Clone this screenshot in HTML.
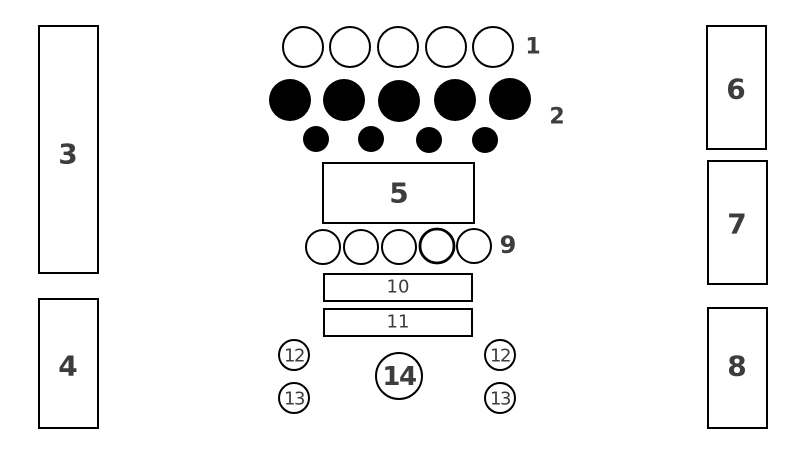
<!DOCTYPE html>
<html><head><style>body{margin:0;background:#fff}svg{display:block}text{font-family:"DejaVu Sans","Liberation Sans",sans-serif;fill:#3d3d3d;text-anchor:middle;dominant-baseline:central}.b{font-weight:bold}.n{font-weight:normal;font-size:18px}</style></head>
<body>
<svg width="800" height="450" viewBox="0 0 800 450">
<g fill="none" stroke="#000" stroke-width="2">
<rect x="39" y="26" width="59" height="247"/>
<rect x="39" y="299" width="59" height="129"/>
<rect x="707" y="26" width="59" height="123"/>
<rect x="708" y="161" width="59" height="123"/>
<rect x="708" y="308" width="59" height="120"/>
<circle cx="303" cy="47" r="20"/><circle cx="350" cy="47" r="20"/><circle cx="398" cy="47" r="20"/><circle cx="446" cy="47" r="20"/><circle cx="493" cy="47" r="20"/>
<rect x="323" y="163" width="151" height="60"/>
<circle cx="323" cy="247" r="17"/><circle cx="361" cy="247" r="17"/><circle cx="399" cy="247" r="17"/><circle cx="437" cy="246" r="17" stroke-width="2.8"/><circle cx="474" cy="246" r="17"/>
<rect x="324" y="274" width="148" height="27"/>
<rect x="324" y="309" width="148" height="27"/>
<circle cx="294" cy="355" r="15"/><circle cx="294" cy="398" r="15"/>
<circle cx="500" cy="355" r="15"/><circle cx="500" cy="398" r="15"/>
<circle cx="399" cy="376" r="23"/>
</g>
<g fill="#000">
<circle cx="290" cy="100" r="21"/><circle cx="344" cy="100" r="21"/><circle cx="399" cy="101" r="21"/><circle cx="455" cy="100" r="21"/><circle cx="510" cy="99" r="21"/>
<circle cx="316" cy="139" r="13"/><circle cx="371" cy="139" r="13"/><circle cx="429" cy="140" r="13"/><circle cx="485" cy="140" r="13"/>
</g>
<text class="b" x="68" y="154" font-size="28">3</text>
<text class="b" x="68" y="366" font-size="28">4</text>
<text class="b" x="736" y="89" font-size="28">6</text>
<text class="b" x="737" y="224" font-size="28">7</text>
<text class="b" x="737" y="366" font-size="28">8</text>
<text class="b" x="399" y="193" font-size="28">5</text>
<text class="b" x="533" y="47" font-size="22">1</text>
<text class="b" x="557" y="117" font-size="22">2</text>
<text class="b" x="508" y="245" font-size="24">9</text>
<text class="n" x="398" y="287">10</text>
<text class="n" x="398" y="322">11</text>
<text class="n" x="294" y="356" letter-spacing="-1.5">12</text>
<text class="n" x="294" y="399" letter-spacing="-1.5">13</text>
<text class="n" x="500" y="356" letter-spacing="-1.5">12</text>
<text class="n" x="500" y="399" letter-spacing="-1.5">13</text>
<text class="b" x="399" y="377" style="font-size:26px" letter-spacing="-1.5">14</text>
</svg>
</body></html>
